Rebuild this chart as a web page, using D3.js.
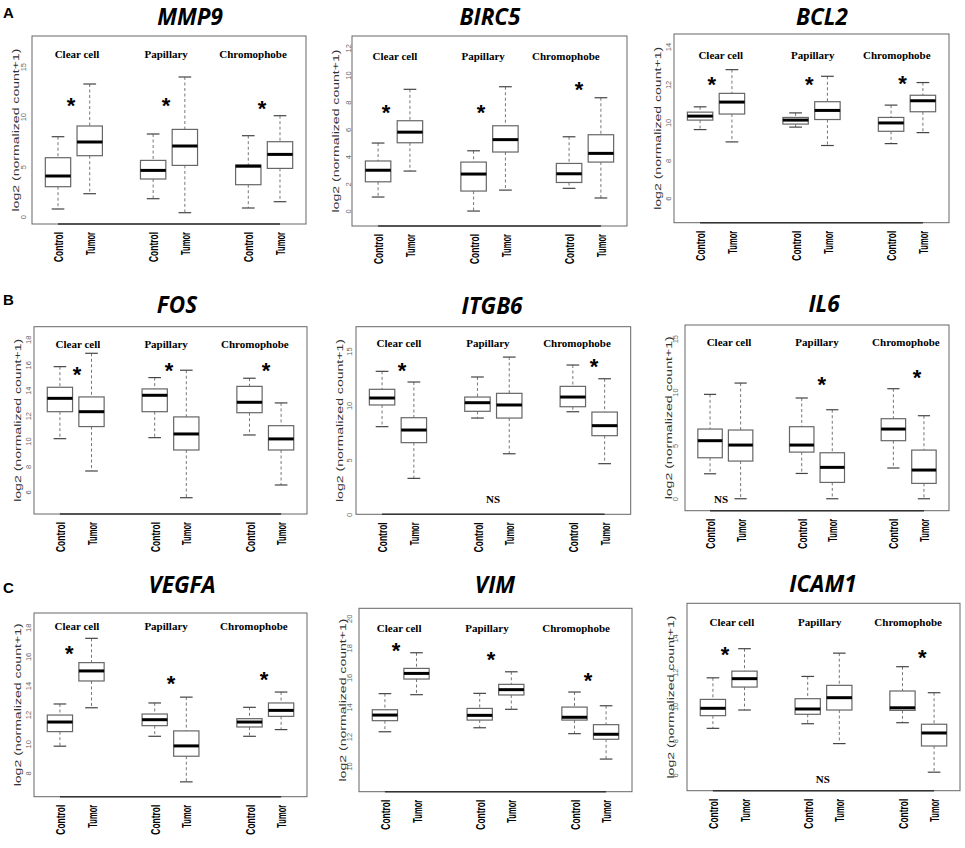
<!DOCTYPE html>
<html><head><meta charset="utf-8">
<script src="https://cdn.jsdelivr.net/npm/d3@7"></script>
<style>body{margin:0;background:#fff;} svg{display:block;}</style>
</head><body>
<svg id="c" width="965" height="848"></svg>
<script>
// ---------- DATA ----------
const genes = ["MMP9","BIRC5","BCL2","FOS","ITGB6","IL6","VEGFA","VIM","ICAM1"];
const groups = ["Clear cell","Papillary","Chromophobe"];
const conditions = ["Control","Tumor"];
const panelLetters = ["A","B","C"];
const yAxisTitle = "log2 (normalized count+1)";

// box stats per box: [lower whisker, Q1, median, Q3, upper whisker]
// order: Clear cell Control, Clear cell Tumor, Papillary Control, Papillary Tumor, Chromophobe Control, Chromophobe Tumor
const boxMMP9  = [[0.77,3.0,4.07,5.9,8.0],[2.3,6.1,7.47,9.07,13.27],[1.8,3.77,4.63,5.63,8.27],[0.4,5.13,7.07,8.73,13.97],[0.87,3.2,5.05,5.17,8.1],[1.5,4.83,6.23,7.5,10.1]];
const boxBIRC5 = [[1.03,2.15,3.0,3.68,5.0],[2.94,5.02,5.8,6.64,8.95],[0,1.47,2.72,3.6,4.43],[1.54,4.34,5.25,6.27,9.14],[1.67,2.1,2.74,3.5,5.46],[0.96,3.6,4.24,5.61,8.33]];
const boxBCL2  = [[9.62,10.12,10.33,10.54,10.82],[8.97,10.44,11.07,11.53,12.78],[9.75,9.91,10.12,10.26,10.5],[8.78,10.15,10.63,11.09,12.43],[8.88,9.53,9.97,10.26,10.91],[9.46,10.56,11.14,11.43,12.1]];
const boxFOS   = [[10.19,12.31,13.36,14.23,15.85],[7.65,11.14,12.31,13.47,16.9],[10.27,12.31,13.6,14.1,14.99],[5.55,9.3,10.56,11.9,15.57],[10.48,12.23,13.05,14.3,14.94],[6.55,9.3,10.17,11.21,13.0]];
const boxITGB6 = [[8.05,10.04,10.68,11.48,13.13],[3.3,6.58,7.74,8.87,12.15],[8.84,9.46,10.25,10.77,12.61],[5.56,8.84,10.04,11.11,14.44],[9.42,9.88,10.77,11.75,13.71],[4.65,7.22,8.14,9.39,12.45]];
const boxIL6   = [[2.34,3.84,5.44,6.53,9.78],[0,3.53,5.03,6.44,10.84],[2.37,4.37,5.03,6.75,9.44],[0,1.53,2.94,4.31,8.34],[2.88,5.44,6.53,7.5,10.31],[0,1.44,2.69,4.56,7.78]];
const boxVEGFA = [[9.83,10.83,11.49,11.97,12.73],[12.47,14.31,15.0,15.57,17.24],[10.51,11.24,11.65,12.04,12.8],[7.38,9.14,9.85,10.88,13.2],[10.51,11.15,11.49,11.72,12.5],[10.97,11.88,12.29,12.8,13.55]];
const boxVIM   = [[12.32,13.07,13.45,13.81,14.9],[14.83,15.89,16.27,16.61,17.67],[12.59,13.11,13.43,13.9,14.92],[13.84,14.81,15.17,15.53,16.38],[12.19,13.11,13.3,13.99,15.01],[10.47,11.81,12.15,12.8,14.08]];
const boxICAM1 = [[8.72,9.46,9.89,10.41,11.67],[9.79,11.13,11.62,12.06,13.37],[8.99,9.54,9.85,10.45,11.75],[7.83,9.79,10.51,11.23,13.11],[9.05,9.77,9.92,10.9,12.32],[6.16,7.69,8.45,8.96,10.8]];

// y tick labels
const ticksMMP9  = [0,5,10,15];
const ticksBIRC5 = [0,2,4,6,8,10,12];
const ticksBCL2  = [6,8,10,12,14];
const ticksFOS   = [6,8,10,12,14,16,18];
const ticksITGB6 = [0,5,10,15];
const ticksIL6   = [0,5,10,15];
const ticksVEGFA = [8,10,12,14,16,18];
const ticksVIM   = [10,12,14,16,18,20];
const ticksICAM1 = [6,8,10,12,14];

// significance marks per group and their heights (data units)
const sigMMP9  = ["*","*","*"],  sigYMMP9  = [11.6,11.6,11.3];
const sigBIRC5 = ["*","*","*"],  sigYBIRC5 = [7.65,7.6,9.3];
const sigBCL2  = ["*","*","*"],  sigYBCL2  = [12.27,12.27,12.32];
const sigFOS   = ["*","*","*"],  sigYFOS   = [15.65,15.98,15.98];
const sigITGB6 = ["*","NS","*"], sigYITGB6 = [13.7,1.38,14.08];
const sigIL6   = ["NS","*","*"], sigYIL6   = [-0.06,11.19,11.81];
const sigVEGFA = ["*","*","*"],  sigYVEGFA = [16.56,14.47,14.76];
const sigVIM   = ["*","*","*"],  sigYVIM   = [18.14,17.58,16.16];
const sigICAM1 = ["*","NS","*"], sigYICAM1 = [13.33,5.75,13.13];

// ---------- LAYOUT ----------
const xPos = [1,2,4,5,7,8];
const panels = [
  {box:boxMMP9, ticks:ticksMMP9, sig:sigMMP9, sigY:sigYMMP9, frame:[32,36,306,224], ydom:[-0.73,18.07], titleX:190, titleY:24.5, labelX:[1.60,4.41,7.15], labelDy:18, sigX:[1.41,4.41,7.43], tickDx:8.5},
  {box:boxBIRC5, ticks:ticksBIRC5, sig:sigBIRC5, sigY:sigYBIRC5, frame:[352,36,627,226], ydom:[-1.1,12.87], titleX:490, titleY:24.5, labelX:[1.53,4.30,6.90], labelDy:20, sigX:[1.25,4.23,7.31], tickDx:4},
  {box:boxBCL2, ticks:ticksBCL2, sig:sigBCL2, sigY:sigYBCL2, frame:[674,34,949,222.7], ydom:[4.71,14.66], titleX:822, titleY:24.5, labelX:[1.65,4.54,7.18], labelDy:21, sigX:[1.37,4.43,7.36], tickDx:5.5},
  {box:boxFOS, ticks:ticksFOS, sig:sigFOS, sigY:sigYFOS, frame:[34,326.7,307,514], ydom:[4.27,18.99], titleX:177, titleY:313, labelX:[1.57,4.36,7.17], labelDy:18, sigX:[1.54,4.45,7.52], tickDx:5.5},
  {box:boxITGB6, ticks:ticksITGB6, sig:sigITGB6, sigY:sigYITGB6, frame:[356,326.7,630.7,514.3], ydom:[0,17.23], titleX:492, titleY:314, labelX:[1.53,4.33,7.13], labelDy:17, sigX:[1.63,4.49,7.67], tickDx:6.5},
  {box:boxIL6, ticks:ticksIL6, sig:sigIL6, sigY:sigYIL6, frame:[685,325,949,510.7], ydom:[-1.12,16.28], titleX:824, titleY:312, labelX:[1.62,4.50,7.41], labelDy:17, sigX:[1.36,4.66,7.77], tickDx:9.5},
  {box:boxVEGFA, ticks:ticksVEGFA, sig:sigVEGFA, sigY:sigYVEGFA, frame:[34,613,307,796.7], ydom:[6.36,18.98], titleX:182, titleY:593, labelX:[1.54,4.36,7.14], labelDy:13, sigX:[1.30,4.52,7.46], tickDx:5.5},
  {box:boxVIM, ticks:ticksVIM, sig:sigVIM, sigY:sigYVIM, frame:[359,608.3,632,791.7], ydom:[8.26,20.68], titleX:495, titleY:593, labelX:[1.45,4.23,7.05], labelDy:20, sigX:[1.35,4.36,7.43], tickDx:9.5},
  {box:boxICAM1, ticks:ticksICAM1, sig:sigICAM1, sigY:sigYICAM1, frame:[687,603.3,960,790.7], ydom:[5.08,16.02], titleX:823, titleY:592, labelX:[1.60,4.38,7.18], labelDy:19, sigX:[1.38,4.48,7.63], tickDx:11.5}
];
const letterPos = [[3,18],[3,305],[3,593]];

const svg = d3.select("#c");
svg.append("rect").attr("width",965).attr("height",848).attr("fill","#fff");

panelLetters.forEach((l,i)=>{
  svg.append("text").attr("x",letterPos[i][0]).attr("y",letterPos[i][1])
    .style("font","bold 15px 'Liberation Sans', Arial, sans-serif").text(l);
});

panels.forEach((p,pi)=>{
  const [L,T,R,B] = p.frame;
  const x = d3.scaleLinear().domain([0.18,8.82]).range([L,R]);
  const y = d3.scaleLinear().domain(p.ydom).range([B,T]);
  const g = svg.append("g");

  // title
  g.append("text").attr("x",p.titleX).attr("y",p.titleY).attr("text-anchor","middle")
    .style("font","italic 700 22.5px 'Open Sans', sans-serif").text(genes[pi]);

  // frame
  g.append("rect").attr("x",L).attr("y",T).attr("width",R-L).attr("height",B-T)
    .attr("fill","none").attr("stroke","#666").attr("stroke-width",1);
  g.append("line").attr("x1",x(xPos[0])).attr("x2",x(xPos[5])).attr("y1",B).attr("y2",B)
    .attr("stroke","#333").attr("stroke-width",1.6);

  // y axis
  const ax = d3.axisLeft(y).tickValues(p.ticks).tickSize(0).tickFormat(d3.format("d"));
  const axg = g.append("g").attr("transform",`translate(${L},0)`).call(ax);
  axg.select(".domain").remove();
  axg.selectAll(".tick text")
    .attr("x",null).attr("dy",null)
    .attr("transform",`translate(${-p.tickDx+2.7},0) rotate(-90)`)
    .attr("text-anchor","middle")
    .attr("fill","#666")
    .style("font","7.5px 'Liberation Sans', Arial, sans-serif");

  // y axis title
  g.append("text")
    .attr("transform",`translate(${L-17+3.5},${(T+B)/2}) rotate(-90)`)
    .attr("text-anchor","middle")
    .attr("textLength",163).attr("lengthAdjust","spacingAndGlyphs")
    .attr("fill","#333")
    .style("font","9.5px 'Liberation Sans', Arial, sans-serif")
    .text(yAxisTitle);

  // x axis labels
  const xa = d3.axisBottom(x).tickValues(xPos).tickSize(0).tickFormat((d,i)=>conditions[i%2]);
  const xag = g.append("g").attr("transform",`translate(0,${B})`).call(xa);
  xag.select(".domain").remove();
  xag.selectAll(".tick text")
    .attr("y",null).attr("dy",null)
    .attr("transform","translate(4.6,8) rotate(-90)")
    .attr("text-anchor","end")
    .attr("fill","#000")
    .attr("textLength",(d,i)=> i%2===0 ? 30 : 23)
    .attr("lengthAdjust","spacingAndGlyphs")
    .style("font","bold 13px 'Liberation Sans', Arial, sans-serif");

  // group labels
  groups.forEach((gr,gi)=>{
    g.append("text").attr("x",x(p.labelX[gi])).attr("y",T+p.labelDy+3.7)
      .attr("text-anchor","middle")
      .style("font","bold 11px 'Liberation Serif', 'Times New Roman', serif")
      .text(gr);
  });

  // boxes
  const bw = x(0.8)-x(0);
  p.box.forEach((b,i)=>{
    const [lo,q1,med,q3,hi] = b;
    const cx = x(xPos[i]);
    const bg = g.append("g");
    bg.append("line").attr("x1",cx).attr("x2",cx).attr("y1",y(hi)).attr("y2",y(q3))
      .attr("stroke","#777").attr("stroke-dasharray","3,2.5");
    bg.append("line").attr("x1",cx).attr("x2",cx).attr("y1",y(q1)).attr("y2",y(lo))
      .attr("stroke","#777").attr("stroke-dasharray","3,2.5");
    [lo,hi].forEach(v=>{
      bg.append("line").attr("x1",cx-bw/4).attr("x2",cx+bw/4).attr("y1",y(v)).attr("y2",y(v))
        .attr("stroke","#444").attr("stroke-width",1.2);
    });
    bg.append("rect").attr("x",cx-bw/2).attr("y",y(q3)).attr("width",bw).attr("height",y(q1)-y(q3))
      .attr("fill","#fff").attr("stroke","#666").attr("stroke-width",1.2);
    bg.append("line").attr("x1",cx-bw/2).attr("x2",cx+bw/2).attr("y1",y(med)).attr("y2",y(med))
      .attr("stroke","#000").attr("stroke-width",3);
  });

  // significance
  p.sig.forEach((s,si)=>{
    if(s==="*"){
      g.append("text").attr("x",x(p.sigX[si])).attr("y",y(p.sigY[si])+12.6)
        .attr("text-anchor","middle")
        .style("font","bold 22px 'Liberation Sans', Arial, sans-serif").text(s);
    } else {
      g.append("text").attr("x",x(p.sigX[si])).attr("y",y(p.sigY[si])+3.7)
        .attr("text-anchor","middle")
        .style("font","bold 11px 'Liberation Serif', 'Times New Roman', serif").text(s);
    }
  });
});
</script>
</body></html>
